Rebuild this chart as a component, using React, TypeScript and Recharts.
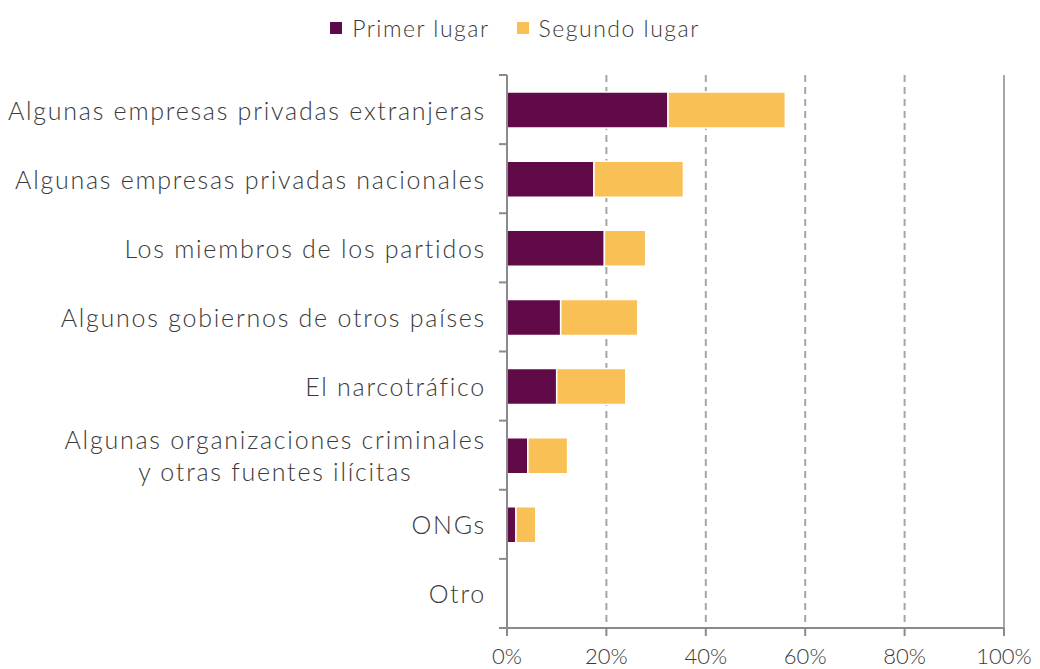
import { useLayoutEffect, useRef, useState } from "react";
import {
  Bar,
  BarChart,
  CartesianGrid,
  Legend,
  ReferenceLine,
  XAxis,
  YAxis,
} from "recharts";

// Categorias del eje vertical (el salto de linea parte la etiqueta larga).
const categories = [
  "Algunas empresas privadas extranjeras",
  "Algunas empresas privadas nacionales",
  "Los miembros de los partidos",
  "Algunos gobiernos de otros países",
  "El narcotráfico",
  "Algunas organizaciones criminales\ny otras fuentes ilícitas",
  "ONGs",
  "Otro",
];
const primerLugar = [32.4, 17.5, 19.6, 10.8, 10.0, 4.2, 1.8, 0];
const segundoLugar = [23.6, 18.0, 8.3, 15.5, 13.9, 8.0, 4.0, 0];
const xTicks = [0, 20, 40, 60, 80, 100];

const PURPLE = "#600b47";
const YELLOW = "#f9c056";
const AXIS = "#8a8a8a";
const TEXT = "#3a3a3a";
const FONT = "Lato, 'Open Sans', sans-serif";

const data = categories.map((name, i) => ({
  name,
  primer: primerLugar[i],
  segundo: segundoLugar[i],
}));

function CategoryTick(props: any) {
  const { x, y, payload, index } = props;
  const ref = useRef<SVGTextElement>(null);
  const [w, setW] = useState(0);
  const lines = String(payload.value).split("\n");
  useLayoutEffect(() => {
    if (ref.current) setW(ref.current.getBBox().width);
  }, [payload.value]);
  const half = payload.offset || 34.5;
  const right = x - 21;
  const isLast = index === categories.length - 1;
  const cx = right - w / 2;
  const textProps = {
    fill: TEXT,
    fontSize: 25,
    fontFamily: FONT,
    fontWeight: 300,
    letterSpacing: 1.75,
  };
  return (
    <g>
      {/* marcas del eje en los limites de cada categoria */}
      <line x1={x - 8} x2={x} y1={y - half} y2={y - half} stroke={AXIS} strokeWidth={2} />
      {isLast && (
        <line x1={x - 8} x2={x} y1={y + half} y2={y + half} stroke={AXIS} strokeWidth={2} />
      )}
      {lines.length === 1 ? (
        <text x={right} y={y} dy="0.4em" textAnchor="end" {...textProps}>
          {lines[0]}
        </text>
      ) : (
        <text ref={ref} textAnchor="middle" {...textProps}>
          {lines.map((l, i) => (
            <tspan key={i} x={cx} y={y + (i - (lines.length - 1) / 2) * 32} dy="0.4em">
              {l}
            </tspan>
          ))}
        </text>
      )}
    </g>
  );
}

function LegendContent(props: any) {
  const { payload } = props;
  return (
    <div
      style={{
        display: "flex",
        justifyContent: "center",
        gap: 27,
        paddingTop: 14,
        paddingLeft: 26,
        fontFamily: FONT,
        fontWeight: 300,
        fontSize: 23,
        color: TEXT,
        letterSpacing: 1.5,
      }}
    >
      {(payload || []).map((entry: any) => (
        <div key={entry.value} style={{ display: "flex", alignItems: "center", gap: 10 }}>
          <span style={{ width: 12, height: 12, background: entry.color, display: "inline-block" }} />
          <span>{entry.value}</span>
        </div>
      ))}
    </div>
  );
}

export default function App() {
  return (
    <div style={{ position: "absolute", left: 0, top: 0, background: "#fff" }}>
      <BarChart
        width={1040}
        height={669}
        data={data}
        layout="vertical"
        margin={{ top: 0, right: 36, bottom: 0, left: 0 }}
        barSize={36}
      >
        <Legend
          verticalAlign="top"
          align="center"
          content={<LegendContent />}
          wrapperStyle={{ height: 75 }}
        />
        <CartesianGrid
          horizontal={false}
          stroke="#a6a6a6"
          strokeWidth={2}
          strokeDasharray="7 5"
        />
        <XAxis
          type="number"
          domain={[0, 100]}
          ticks={xTicks}
          tickFormatter={(v) => `${v}%`}
          height={41}
          tickSize={8}
          tickMargin={12}
          axisLine={{ stroke: AXIS, strokeWidth: 2 }}
          tickLine={{ stroke: AXIS, strokeWidth: 2 }}
          tick={{ fill: TEXT, fontSize: 22, fontFamily: FONT, fontWeight: 300 }}
          interval={0}
        />
        <XAxis
          xAxisId="top"
          orientation="top"
          type="number"
          domain={[0, 100]}
          height={0}
          tick={false}
          tickLine={false}
          axisLine={{ stroke: "#a6a6a6", strokeWidth: 2 }}
        />
        <YAxis
          type="category"
          dataKey="name"
          width={507}
          tickSize={0}
          tickMargin={0}
          tickLine={false}
          axisLine={{ stroke: AXIS, strokeWidth: 2 }}
          tick={<CategoryTick />}
          interval={0}
        />
        <ReferenceLine x={100} stroke="#a6a6a6" strokeWidth={2} />
        <Bar
          dataKey="primer"
          name="Primer lugar"
          stackId="a"
          fill={PURPLE}
          stroke="#fff"
          strokeWidth={1.5}
          isAnimationActive={false}
        />
        <Bar
          dataKey="segundo"
          name="Segundo lugar"
          stackId="a"
          fill={YELLOW}
          stroke="#fff"
          strokeWidth={1.5}
          isAnimationActive={false}
        />
      </BarChart>
    </div>
  );
}
